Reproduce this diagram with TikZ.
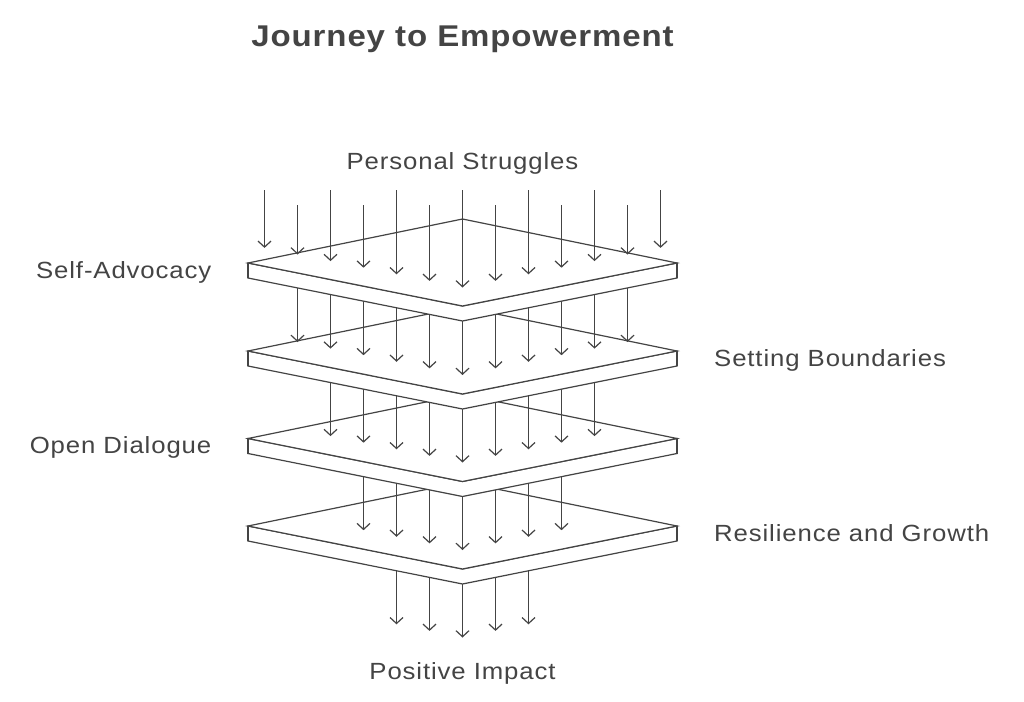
\documentclass[tikz,border=0pt]{standalone}
\usepackage{fontspec}
\setmainfont{Liberation Sans}
\usetikzlibrary{arrows.meta}
\definecolor{ink}{HTML}{444444}
\newfontfamily\labelfont[LetterSpace=3.8,FakeStretch=1.1]{Liberation Sans}
\newfontfamily\titlefont[LetterSpace=3,FakeStretch=1.1]{Liberation Sans Bold}
\tikzset{
  slabface/.style={draw=ink,fill=white,line width=1.2pt,line join=miter},
  slabedge/.style={draw=ink,line width=2pt},
  flow/.style={draw=ink,line width=1.2pt,-{Straight Barb[length=6pt,width=13pt,line width=1.2pt]}},
  flowheavy/.style={draw=ink,line width=1.9pt,-{Straight Barb[length=6pt,width=13pt,line width=1.2pt]}},
  lab/.style={text=ink,font=\labelfont\fontsize{23.4}{28}\selectfont,inner sep=0pt,anchor=base},
  titlelab/.style={text=ink,font=\titlefont\fontsize{30}{36}\selectfont,inner sep=0pt,anchor=base}
}
% slab with top-vertex y = #1
\newcommand{\slabat}[1]{%
  \path[slabface] (248,#1+44) -- (462.5,#1+87) -- (677,#1+44) -- (677,#1+59) -- (462.5,#1+102) -- (248,#1+59) -- cycle;
  \path[slabface] (248,#1+44) -- (462.5,#1) -- (677,#1+44) -- (462.5,#1+87) -- cycle;
  \draw[slabedge] (248,#1+44) -- (248,#1+59);
  \draw[slabedge] (677,#1+44) -- (677,#1+59);
}
% arrow at index i (distance from centre in columns), tip offset by row
\newcommand{\rowarrow}[4][flow]{%
  \coordinate (s#2#3) at ({462.5+33*#3},#2);
  \coordinate (e#2#3) at ({462.5+33*#3},{#4+287.5-6.6*abs(#3)});
  \draw[#1] (s#2#3) -- (e#2#3);
}
\begin{document}
\begin{tikzpicture}[x=1pt,y=-1pt]
\path[use as bounding box,fill=white] (0,0) rectangle (1024,701);
% row 5 (below slab 4)
\foreach \i in {-2,...,2} {\rowarrow{520}{\i}{350}}
\slabat{482}
% row 4
\foreach \i in {-3,...,3} {\rowarrow{440}{\i}{262.5}}
\slabat{394.5}
% row 3
\foreach \i in {-4,...,4} {\rowarrow{360}{\i}{175}}
\slabat{307}
% row 2
\foreach \i in {-4,...,4} {\rowarrow{270}{\i}{87.5}}
\rowarrow[flowheavy]{270}{-5}{87.5}
\rowarrow{270}{5}{87.5}
\slabat{219}
% row 1
\foreach \i/\y in {-4/190,-3/205,-2/190,-1/205,0/190,1/205,2/190,3/205,4/190,5/205,6/190} {\rowarrow{\y}{\i}{0}}
\rowarrow[flowheavy]{190}{-6}{0}
\rowarrow[flowheavy]{205}{-5}{0}
% labels
\node[titlelab] (title) at (462.5,46.5) {Journey to Empowerment};
\node[lab] (top) at (462.5,169) {Personal Struggles};
\node[lab,anchor=base east] (l1) at (211.5,278) {Self-Advocacy};
\node[lab,anchor=base west] (l2) at (714,366) {Setting Boundaries};
\node[lab,anchor=base east] (l3) at (211.5,453) {Open Dialogue};
\node[lab,anchor=base west] (l4) at (714,541) {Resilience and Growth};
\node[lab] (bottom) at (462.5,679) {Positive Impact};
\end{tikzpicture}
\end{document}
